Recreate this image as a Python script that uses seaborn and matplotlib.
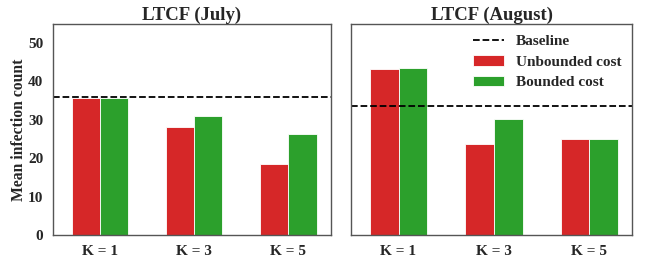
import pandas as pd
import matplotlib
matplotlib.use('Agg')
import matplotlib.pyplot as plt
import seaborn as sns

# Data
k_labels = ['K = 1', 'K = 3', 'K = 5']
july_unbounded = [35.8, 28.0, 18.5]
july_bounded = [35.7, 30.9, 26.3]
july_baseline = 36.0
august_unbounded = [43.3, 23.8, 25.0]
august_bounded = [43.4, 30.3, 25.1]
august_baseline = 33.6

sns.set_theme(style='white')
plt.rcParams['font.family'] = ['Liberation Serif', 'DejaVu Serif']
plt.rcParams['font.weight'] = 'bold'

palette = {'Unbounded cost': '#d62728', 'Bounded cost': '#2ca02c'}

def make_frame(unbounded, bounded):
    return pd.DataFrame({
        'K': k_labels * 2,
        'Cost': ['Unbounded cost'] * 3 + ['Bounded cost'] * 3,
        'Count': unbounded + bounded,
    })

fig = plt.figure(figsize=(6.46, 2.57), dpi=100)
ax1 = fig.add_axes([0.082, 0.086, 0.430, 0.821])
ax2 = fig.add_axes([0.543, 0.086, 0.436, 0.821])

panels = [
    (ax1, 'LTCF (July)', july_unbounded, july_bounded, july_baseline),
    (ax2, 'LTCF (August)', august_unbounded, august_bounded, august_baseline),
]

for ax, title, unb, bnd, base in panels:
    df = make_frame(unb, bnd)
    sns.barplot(data=df, x='K', y='Count', hue='Cost', palette=palette, width=0.6,
                edgecolor='white', linewidth=0.6, saturation=1, ax=ax)
    ax.axhline(base, color='black', linestyle='--', linewidth=1.3, label='Baseline')
    ax.set_ylim(0, 55)
    ax.set_xlim(-0.5, 2.45)
    ax.set_title(title, fontsize=13.5, fontweight='bold', pad=3)
    ax.set_xlabel('')
    ax.tick_params(axis='both', labelsize=11, pad=1)
    for lbl in ax.get_xticklabels() + ax.get_yticklabels():
        lbl.set_fontweight('bold')
    for s in ax.spines.values():
        s.set_color('#555555')
        s.set_linewidth(1.0)
    ax.get_legend().remove()

ax1.set_ylabel('Mean infection count', fontsize=11.3, fontweight='bold')
ax1.yaxis.set_label_coords(-0.092, 0.5)
ax1.set_yticks([0, 10, 20, 30, 40, 50])
ax2.set_ylabel('')
ax2.set_yticks([])

handles, labels = ax2.get_legend_handles_labels()
order = [labels.index('Baseline'), labels.index('Unbounded cost'), labels.index('Bounded cost')]
ax2.legend([handles[i] for i in order], [labels[i] for i in order], loc='upper right',
           frameon=False, prop={'weight': 'bold', 'size': 11}, handlelength=2.0,
           borderaxespad=0.3, labelspacing=0.45)

fig.savefig('out.png', dpi=100)
